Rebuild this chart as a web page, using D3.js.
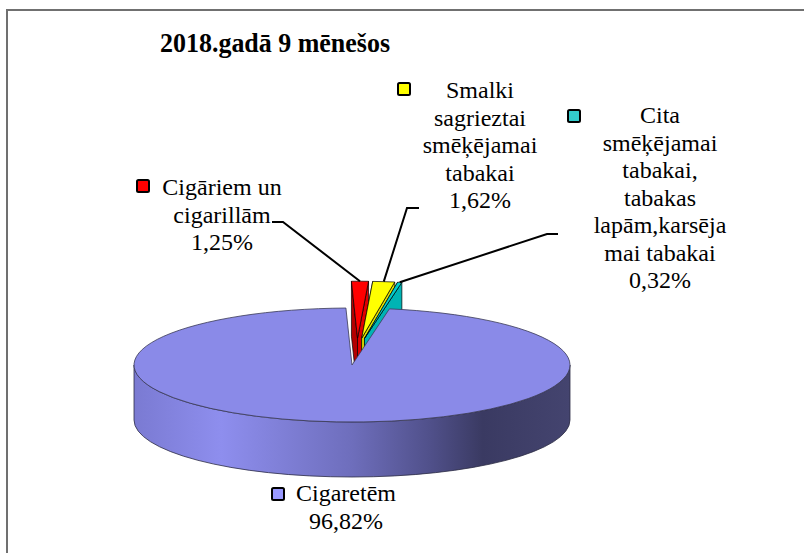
<!DOCTYPE html>
<html>
<head>
<meta charset="utf-8">
<script src="https://cdn.jsdelivr.net/npm/d3@7"></script>
<style>
    html, body { margin: 0; padding: 0; background: #fff; }
    svg { display: block; }
    svg text { font-family: "Liberation Serif", "DejaVu Serif", serif; }
</style>
</head>
<body>
<div id="chart"></div>
<script>
// --- data ---
const title = '2018.gadā 9 mēnešos';
const categories = [
    'Cigāriem un cigarillām',
    'Smalki sagrieztai smēķējamai tabakai',
    'Cita smēķējamai tabakai, tabakas lapām,karsēja mai tabakai',
    'Cigaretēm'
];
const shares = [1.25, 1.62, 0.32, 96.82];
// category text as it wraps in the labels
const labelLines = [
    ['Cigāriem un', 'cigarillām'],
    ['Smalki', 'sagrieztai', 'smēķējamai', 'tabakai'],
    ['Cita', 'smēķējamai', 'tabakai,', 'tabakas', 'lapām,karsēja', 'mai tabakai'],
    ['Cigaretēm']
];
const exploded = [true, true, true, false];

// --- styles / layout ---
const topColors = ['#ff0000', '#ffff00', '#00cccc', '#8a8ae8'];
const keyColors = ['#ff0000', '#ffff00', '#33cccc', '#9999ff'];
const W = 804, H = 553;
const cx = 352, cy = 365, rx = 218, ry = 57, depth = 55;
const firstAngle = -1.6 * Math.PI / 180;
const explode = 0.47;
const lineH = 27.5;

// label anchors: text centre x, first baseline y, legend key x/y, leader line [start, elbow]
const labelLayout = [
    { x: 222, y: 195, kx: 137, ky: 180, leader: [[272, 222], [283, 222]] },
    { x: 480, y: 98, kx: 398, ky: 83, leader: [[419, 208], [407, 208]] },
    { x: 660, y: 123, kx: 568, ky: 110, leader: [[558, 234], [547, 234]] },
    { x: 346, y: 501, kx: 272, ky: 488, leader: null }
];

const fmtPct = v => v.toFixed(2).replace('.', ',') + '%';

const svg = d3.select('#chart').append('svg')
    .attr('width', W)
    .attr('height', H);

// frame (runs off the right and bottom edges)
svg.append('path')
    .attr('d', `M7,${H + 2}V10H${W + 2}`)
    .attr('fill', 'none')
    .attr('stroke', '#707070')
    .attr('stroke-width', 2);

svg.append('text')
    .attr('x', 160)
    .attr('y', 52)
    .attr('font-size', 28)
    .attr('font-weight', 'bold')
    .attr('textLength', 230)
    .attr('lengthAdjust', 'spacingAndGlyphs')
    .text(title);

// wall shading for the big slice
const grad = svg.append('defs').append('linearGradient')
    .attr('id', 'wall')
    .attr('gradientUnits', 'userSpaceOnUse')
    .attr('x1', cx - rx).attr('x2', cx + rx)
    .attr('y1', 0).attr('y2', 0);
[[0, '#7a7ad2'], [0.2, '#8e8eee'], [0.5, '#6e6ebc'], [0.68, '#50508a'], [0.8, '#3a3a62'], [1, '#44446f']]
    .forEach(([o, c]) => grad.append('stop').attr('offset', o).attr('stop-color', c));

const pie = d3.pie().sort(null).value(d => d)
    .startAngle(firstAngle)
    .endAngle(firstAngle + 2 * Math.PI);
const arcs = pie(shares);

// projected point on the tilted disc; z pushes down to the bottom face
const pt = (a, r, off, z = 0) => [
    cx + off[0] + rx * r * Math.sin(a),
    cy + off[1] - ry * r * Math.cos(a) + z
];

function offsetOf(i) {
    if (!exploded[i]) return [0, 0];
    const mid = (arcs[i].startAngle + arcs[i].endAngle) / 2;
    return [5 + rx * explode * 0.45 * Math.sin(mid), -ry * explode * Math.cos(mid)];
}

function topPath(d, off) {
    const c = pt(0, 0, off), p0 = pt(d.startAngle, 1, off), p1 = pt(d.endAngle, 1, off);
    const large = d.endAngle - d.startAngle > Math.PI ? 1 : 0;
    return `M${c}L${p0}A${rx},${ry} 0 ${large} 1 ${p1}Z`;
}

function sidePath(a, off) {
    const c = pt(0, 0, off), p = pt(a, 1, off);
    const c2 = pt(0, 0, off, depth), p2 = pt(a, 1, off, depth);
    return `M${c}L${p}L${p2}L${c2}Z`;
}

function wallPath(a0, a1, off) {
    const p0 = pt(a0, 1, off), p1 = pt(a1, 1, off);
    const q0 = pt(a0, 1, off, depth), q1 = pt(a1, 1, off, depth);
    return `M${p0}A${rx},${ry} 0 0 1 ${p1}L${q1}A${rx},${ry} 0 0 0 ${q0}Z`;
}

const pieG = svg.append('g');

// small slices sit at the back, draw them first (back-most first)
arcs.forEach((d, i) => {
    if (!exploded[i]) return;
    const off = offsetOf(i);
    const base = d3.color(topColors[i]);
    pieG.append('path')
        .attr('d', sidePath(d.startAngle, off))
        .attr('fill', base.darker(1))
        .attr('stroke', '#000').attr('stroke-width', 0.7);
    pieG.append('path')
        .attr('d', sidePath(d.endAngle, off))
        .attr('fill', base.darker(0.35))
        .attr('stroke', '#000').attr('stroke-width', 0.7);
    pieG.append('path')
        .attr('d', topPath(d, off))
        .attr('fill', topColors[i])
        .attr('stroke', '#000').attr('stroke-width', 0.7);
});

// big slice: front wall then top
arcs.forEach((d, i) => {
    if (exploded[i]) return;
    const off = offsetOf(i);
    const a0 = Math.max(d.startAngle, Math.PI / 2);
    const a1 = Math.min(d.endAngle, 3 * Math.PI / 2);
    pieG.append('path')
        .attr('d', wallPath(a0, a1, off))
        .attr('fill', 'url(#wall)')
        .attr('stroke', '#2c2c44').attr('stroke-width', 0.8);
    pieG.append('path')
        .attr('d', topPath(d, off))
        .attr('fill', topColors[i])
        .attr('stroke', '#3a3a55').attr('stroke-width', 0.8);
});

// leader lines
arcs.forEach((d, i) => {
    const lay = labelLayout[i];
    if (!lay.leader) return;
    const mid = (d.startAngle + d.endAngle) / 2;
    const end = pt(mid, 1, offsetOf(i));
    svg.append('path')
        .attr('d', d3.line()([lay.leader[0], lay.leader[1], end]))
        .attr('fill', 'none')
        .attr('stroke', '#000')
        .attr('stroke-width', 2);
});

// labels with legend keys
const labels = svg.selectAll('.label')
    .data(arcs)
    .enter()
    .append('g')
    .attr('class', 'label');

labels.append('rect')
    .attr('x', (d, i) => labelLayout[i].kx)
    .attr('y', (d, i) => labelLayout[i].ky)
    .attr('width', 12)
    .attr('height', 12)
    .attr('rx', 1.5)
    .attr('fill', (d, i) => keyColors[i])
    .attr('stroke', '#000')
    .attr('stroke-width', 2);

labels.append('text')
    .attr('text-anchor', 'middle')
    .attr('font-size', 24)
    .attr('font-family', '"Liberation Serif", serif')
    .attr('fill', '#000')
    .each(function(d, i) {
        const lay = labelLayout[i];
        const lines = labelLines[i].concat([fmtPct(d.data)]);
        d3.select(this).selectAll('tspan')
            .data(lines)
            .enter()
            .append('tspan')
            .attr('x', lay.x)
            .attr('y', (t, k) => lay.y + k * lineH)
            .text(t => t);
    });
</script>
</body>
</html>
